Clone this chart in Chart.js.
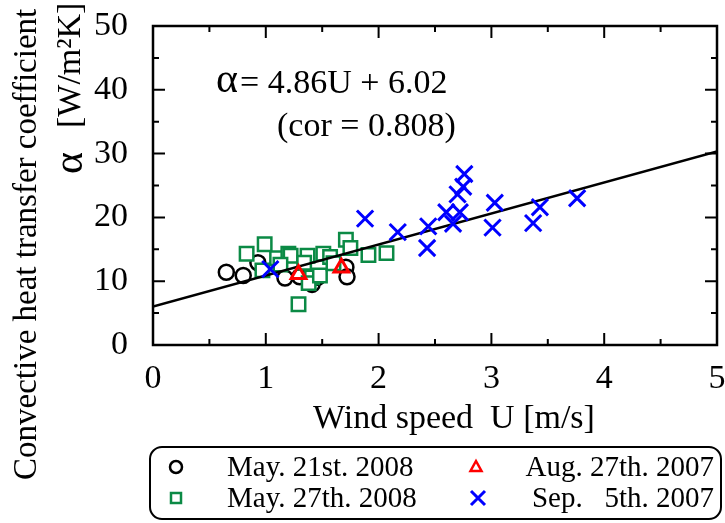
<!DOCTYPE html>
<html>
<head>
<meta charset="utf-8">
<script src="https://cdn.jsdelivr.net/npm/chart.js@4.4.0/dist/chart.umd.min.js"></script>
<style>
  html, body { margin: 0; padding: 0; background: #fff; }
</style>
</head>
<body>
<canvas id="miGrafico" width="725" height="523"></canvas>
<script>
// ------------------------------------------------------------------------------
// alpha vs wind speed
// ------------------------------------------------------------------------------
const may21U = [0.65, 0.80, 0.93, 1.17, 1.30, 1.41, 1.46, 1.71, 1.72];
const may21A = [11.4, 10.9, 12.9, 10.5, 10.7, 9.5, 10.6, 12.2, 10.7];

const may27U = [0.83, 0.99, 0.97, 1.10, 1.20, 1.22, 1.37, 1.34, 1.41, 1.38, 1.48, 1.51, 1.57, 1.60, 1.71, 1.75, 1.91, 2.07, 1.29, 1.13];
const may27A = [14.3, 15.8, 11.7, 13.6, 14.3, 14.0, 14.0, 12.9, 10.6, 9.7, 10.9, 14.3, 13.8, 12.8, 16.5, 15.2, 14.1, 14.4, 6.4, 12.6];

const aug27U = [1.29, 1.67];
const aug27A = [11.1, 12.1];

const sep5U = [1.04, 1.88, 2.17, 2.44, 2.43, 2.60, 2.66, 2.72, 2.70, 2.75, 2.76, 3.03, 3.01, 3.43, 3.37, 3.76];
const sep5A = [11.9, 19.8, 17.7, 18.6, 15.2, 20.8, 19.0, 20.8, 23.6, 24.8, 26.8, 22.3, 18.4, 21.6, 19.1, 23.0];

const fitU = [0, 5];
const fitA = [6.02, 30.32];

const xMajor = [0, 1, 2, 3, 4, 5];
const xMinor = [0.5, 1.5, 2.5, 3.5, 4.5];
const yMajor = [0, 10, 20, 30, 40, 50];
const yMinor = [5, 15, 25, 35, 45];

const legendLabels = ['May. 21st. 2008', 'May. 27th. 2008', 'Aug. 27th. 2007', 'Sep.   5th. 2007'];

const SERIF = '"Liberation Serif", "DejaVu Serif", serif';
const GREEN = '#0b8a45';

function pts(u, a) {
    let out = [];
    for (let i = 0; i < u.length; i++) out.push({x: u[i], y: a[i]});
    return out;
}

function marker(ctx, style, x, y) {
    ctx.save();
    ctx.beginPath();
    if (style == 'circle') {
        ctx.strokeStyle = '#000'; ctx.lineWidth = 2.5;
        ctx.arc(x, y, 6, 0, Math.PI * 2);
    } else if (style == 'rect') {
        ctx.strokeStyle = GREEN; ctx.lineWidth = 2.5;
        ctx.rect(x - 5, y - 5, 10, 10);
    } else if (style == 'triangle') {
        ctx.strokeStyle = '#f00'; ctx.lineWidth = 2.5;
        ctx.moveTo(x, y - 6); ctx.lineTo(x + 5.5, y + 4); ctx.lineTo(x - 5.5, y + 4); ctx.closePath();
    } else {
        ctx.strokeStyle = '#00f'; ctx.lineWidth = 3;
        ctx.moveTo(x - 7, y - 7); ctx.lineTo(x + 7, y + 7);
        ctx.moveTo(x + 7, y - 7); ctx.lineTo(x - 7, y + 7);
    }
    ctx.stroke();
    ctx.restore();
}

const decor = {
    id: 'decor',
    afterDraw(chart) {
        const ctx = chart.ctx;
        const a = chart.chartArea;
        const xs = chart.scales.x, ys = chart.scales.y;
        ctx.save();
        // frame
        ctx.strokeStyle = '#000';
        ctx.lineWidth = 2.5;
        ctx.strokeRect(a.left, a.top, a.right - a.left, a.bottom - a.top);
        // inward ticks
        ctx.lineWidth = 2;
        ctx.beginPath();
        for (let v of xMajor.concat(xMinor)) {
            let len = xMajor.includes(v) ? 12 : 6;
            let px = xs.getPixelForValue(v);
            ctx.moveTo(px, a.bottom); ctx.lineTo(px, a.bottom - len);
            ctx.moveTo(px, a.top); ctx.lineTo(px, a.top + len);
        }
        for (let v of yMajor.concat(yMinor)) {
            let len = yMajor.includes(v) ? 12 : 6;
            let py = ys.getPixelForValue(v);
            ctx.moveTo(a.left, py); ctx.lineTo(a.left + len, py);
            ctx.moveTo(a.right, py); ctx.lineTo(a.right - len, py);
        }
        ctx.stroke();

        ctx.fillStyle = '#000';
        // x title
        ctx.font = '34px ' + SERIF;
        ctx.textAlign = 'left';
        ctx.textBaseline = 'middle';
        ctx.fillText('Wind speed  U [m/s]', 313, 419);

        // y title
        ctx.save();
        ctx.translate(27, 480);
        ctx.rotate(-Math.PI / 2);
        ctx.font = '33px ' + SERIF;
        ctx.textAlign = 'left';
        ctx.fillText('Convective heat transfer coefficient', 0, 0);
        ctx.restore();
        ctx.save();
        ctx.translate(71, 174);
        ctx.rotate(-Math.PI / 2);
        ctx.font = '42px ' + SERIF;
        ctx.textAlign = 'left';
        ctx.fillText('\u03b1', 0, 0);
        ctx.font = '34px ' + SERIF;
        ctx.fillText('[W/m\u00b2K]', 46, 0);
        ctx.restore();

        // equation
        ctx.font = '42px ' + SERIF;
        ctx.textAlign = 'left';
        ctx.fillText('\u03b1', 216, 81);
        ctx.font = '34px ' + SERIF;
        ctx.fillText('= 4.86U + 6.02', 240, 84);
        ctx.fillText('(cor = 0.808)', 277, 127);

        // legend box
        ctx.lineWidth = 2;
        ctx.beginPath();
        ctx.roundRect(150, 447, 571, 72, 12);
        ctx.stroke();
        ctx.font = '29px ' + SERIF;
        marker(ctx, 'circle', 176, 467);
        marker(ctx, 'rect', 176, 498);
        marker(ctx, 'triangle', 476, 467);
        marker(ctx, 'x', 478, 498);
        ctx.textAlign = 'left';
        ctx.fillText(legendLabels[0], 227, 468);
        ctx.fillText(legendLabels[1], 227, 499);
        ctx.textAlign = 'right';
        ctx.fillText(legendLabels[2], 714, 468);
        ctx.fillText(legendLabels[3], 714, 499);
        ctx.restore();
    }
};

let chartData = {
    datasets: [
        {
            label: legendLabels[3],
            data: pts(sep5U, sep5A),
            pointStyle: 'crossRot',
            pointRadius: 11.5,
            borderColor: '#0000ff',
            borderWidth: 3,
            order: 1,
        },
        {
            label: legendLabels[2],
            data: pts(aug27U, aug27A),
            pointStyle: 'triangle',
            pointRadius: 8.5,
            borderColor: '#ff0000',
            backgroundColor: 'rgba(255,255,255,0)',
            borderWidth: 3,
            order: 2,
        },
        {
            label: 'fit',
            type: 'line',
            data: pts(fitU, fitA),
            borderColor: '#000',
            borderWidth: 2.5,
            pointRadius: 0,
            fill: false,
            order: 3,
        },
        {
            label: legendLabels[1],
            data: pts(may27U, may27A),
            pointStyle: 'rect',
            pointRadius: 9.5,
            borderColor: GREEN,
            backgroundColor: '#fff',
            borderWidth: 2.5,
            order: 4,
        },
        {
            label: legendLabels[0],
            data: pts(may21U, may21A),
            pointStyle: 'circle',
            pointRadius: 7.5,
            borderColor: '#000',
            backgroundColor: '#fff',
            borderWidth: 2.5,
            order: 5,
        }
    ]
};

var grafico = new Chart(document.getElementById('miGrafico'), {
    type: 'scatter',
    data: chartData,
    options: {
        responsive: false,
        animation: false,
        layout: { autoPadding: false, padding: { top: 26, right: 8, left: 0, bottom: 0 } },
        plugins: { legend: { display: false }, tooltip: { enabled: false } },
        scales: {
            x: {
                type: 'linear', min: 0, max: 5,
                grid: { display: false, drawTicks: false },
                border: { display: false },
                ticks: { stepSize: 1, padding: 14, color: '#000', font: { family: SERIF, size: 34 } },
                afterFit: function(s) { s.height = 178; s.paddingLeft = 0; s.paddingRight = 0; }
            },
            y: {
                type: 'linear', min: 0, max: 50,
                grid: { display: false, drawTicks: false },
                border: { display: false },
                ticks: { stepSize: 10, padding: 25, color: '#000', font: { family: SERIF, size: 34 } },
                afterFit: function(s) { s.width = 153; s.paddingTop = 0; s.paddingBottom = 0; }
            }
        }
    },
    plugins: [decor]
});
</script>
</body>
</html>
